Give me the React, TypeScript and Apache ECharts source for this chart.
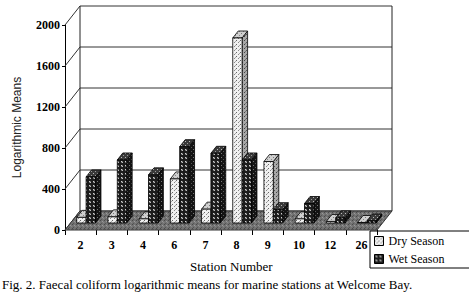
import React, { useEffect, useRef } from 'react';
import * as echarts from 'echarts';

const stations = ['2', '3', '4', '6', '7', '8', '9', '10', '12', '26'];
const drySeason = [55, 60, 40, 430, 135, 1805, 600, 40, 15, 5];
const wetSeason = [450, 615, 470, 745, 680, 615, 130, 190, 50, 20];
const yTicks = [0, 400, 800, 1200, 1600, 2000];
const seriesNames = ['Dry Season', 'Wet Season'];
const captionText = 'Fig. 2. Faecal coliform logarithmic means for marine stations at Welcome Bay.';
const xAxisTitle = 'Station Number';
const yAxisTitle = 'Logarithmic Means';

// depth of the 3D box (px)
const DX = 15;
const DY = -19;
// bar placement in depth
const FDX = 5.5;
const FDY = -7;
const BDX = 5.5;
const BDY = -7;

function makePattern(size: number, bg: string, dots: [number, number, string][]) {
  const c = document.createElement('canvas');
  c.width = size;
  c.height = size;
  const ctx = c.getContext('2d')!;
  ctx.fillStyle = bg;
  ctx.fillRect(0, 0, size, size);
  dots.forEach(([x, y, col]) => {
    ctx.fillStyle = col;
    ctx.fillRect(x, y, 1, 1);
  });
  return { image: c, repeat: 'repeat' } as any;
}

export default function App() {
  const ref = useRef<HTMLDivElement>(null);
  useEffect(() => {
    if (!ref.current) return;
    const chart = echarts.init(ref.current, undefined, { renderer: 'svg' });

    const dryFront = makePattern(4, '#f0f0f0', [[0, 0, '#666'], [2, 2, '#888'], [3, 1, '#aaa']]);
    const dryTop = makePattern(4, '#cfcfcf', [[1, 1, '#777'], [3, 3, '#888']]);
    const drySide = makePattern(4, '#a8a8a8', [[0, 0, '#444'], [2, 2, '#555'], [1, 3, '#777']]);
    const wetFront = makePattern(4, '#1c1c1c', [[1, 1, '#cfcfcf'], [2, 2, '#bdbdbd'], [1, 2, '#666'], [2, 1, '#666']]);
    const wetTop = makePattern(4, '#3a3a3a', [[1, 1, '#bbb'], [3, 3, '#999']]);
    const wetSide = makePattern(4, '#141414', [[1, 1, '#777'], [3, 3, '#555']]);
    const floorFill = makePattern(4, '#727272', [[0, 0, '#4a4a4a'], [2, 1, '#9a9a9a'], [1, 3, '#555'], [3, 2, '#8a8a8a']]);

    const faces = [
      { front: dryFront, top: dryTop, side: drySide },
      { front: wetFront, top: wetTop, side: wetSide },
    ];

    const barRender = (k: number) => (params: any, api: any) => {
      const idx = api.value(0);
      const v = api.value(1);
      const base = api.coord([idx, 0]);
      const top = api.coord([idx, v]);
      const band = api.size([1, 0])[0];
      const w = band * 0.3;
      const x0 = base[0] - w + k * w + FDX;
      const yt = top[1] + FDY;
      const yb = base[1] + FDY;
      const f = faces[k];
      const stroke = '#000';
      return {
        type: 'group',
        children: [
          {
            type: 'polygon',
            shape: { points: [[x0 + w, yt], [x0 + w + BDX, yt + BDY], [x0 + w + BDX, yb + BDY], [x0 + w, yb]] },
            style: { fill: f.side, stroke, lineWidth: 0.8 },
          },
          {
            type: 'polygon',
            shape: { points: [[x0, yt], [x0 + w, yt], [x0 + w + BDX, yt + BDY], [x0 + BDX, yt + BDY]] },
            style: { fill: f.top, stroke, lineWidth: 0.8 },
          },
          {
            type: 'rect',
            shape: { x: x0, y: yt, width: w, height: yb - yt },
            style: { fill: f.front, stroke, lineWidth: 0.8 },
          },
        ],
      };
    };

    const serifFont = 'Liberation Serif';

    chart.setOption({
      animation: false,
      backgroundColor: '#fff',
      title: [
        {
          text: captionText,
          left: 2,
          top: 278,
          padding: 0,
          textStyle: { fontFamily: serifFont, fontSize: 13, fontWeight: 'normal', color: '#000' },
        },
        {
          text: xAxisTitle,
          left: 190,
          top: 260,
          padding: 0,
          textStyle: { fontFamily: serifFont, fontSize: 13, fontWeight: 'normal', color: '#000' },
        },
      ],
      legend: {
        data: seriesNames,
        orient: 'vertical',
        left: 370,
        top: 231,
        icon: 'rect',
        itemWidth: 9,
        itemHeight: 9,
        itemGap: 6,
        padding: [4, 26, 3, 4],
        borderColor: '#000',
        borderWidth: 1,
        itemStyle: { borderColor: '#000', borderWidth: 1 },
        textStyle: { fontFamily: serifFont, fontSize: 12, color: '#000' },
      },
      grid: { left: 65, top: 25, right: 92, bottom: 68, containLabel: false },
      xAxis: {
        type: 'category',
        data: stations,
        boundaryGap: true,
        axisLine: { show: false },
        axisTick: { show: true, length: 5, lineStyle: { color: '#000' } },
        axisLabel: { margin: 9, fontFamily: serifFont, fontWeight: 'bold', fontSize: 12, color: '#000' },
        splitLine: { show: false },
      },
      yAxis: {
        type: 'value',
        min: 0,
        max: 2000,
        interval: 400,
        name: yAxisTitle,
        nameLocation: 'middle',
        nameGap: 42,
        nameTextStyle: { fontFamily: 'Liberation Sans', fontSize: 12, color: '#222' },
        axisLine: { show: true, lineStyle: { color: '#000', width: 1 } },
        axisTick: { show: true, length: 3, lineStyle: { color: '#000' } },
        axisLabel: {
          margin: 5,
          fontFamily: serifFont,
          fontWeight: 'bold',
          fontSize: 12,
          color: '#000',
          formatter: (v: number) => String(v),
        },
        splitLine: { show: false },
      },
      series: [
        {
          type: 'custom',
          name: 'grid',
          silent: true,
          z: 1,
          data: yTicks.map((v) => [0, v]),
          renderItem: (params: any, api: any) => {
            const cs = params.coordSys;
            const y = api.coord([0, api.value(1)])[1];
            const x0 = cs.x;
            const x1 = cs.x + cs.width;
            return {
              type: 'polyline',
              shape: { points: [[x0, y], [x0 + DX, y + DY], [x1 + DX, y + DY]] },
              style: { stroke: '#333', fill: null, lineWidth: 1 },
            };
          },
        },
        {
          type: 'custom',
          name: 'walls',
          silent: true,
          z: 1,
          data: [[0, 0]],
          renderItem: (params: any, api: any) => {
            const cs = params.coordSys;
            const yb = api.coord([0, api.value(1)])[1];
            const yTop = cs.y;
            const x0 = cs.x;
            const x1 = cs.x + cs.width;
            return {
              type: 'group',
              children: [
                {
                  type: 'line',
                  shape: { x1: x0 + DX, y1: yTop + DY, x2: x0 + DX, y2: yb + DY },
                  style: { stroke: '#222', lineWidth: 1 },
                },
                {
                  type: 'line',
                  shape: { x1: x1 + DX, y1: yTop + DY, x2: x1 + DX, y2: yb + DY },
                  style: { stroke: '#222', lineWidth: 1 },
                },
                {
                  type: 'polygon',
                  shape: { points: [[x0, yb], [x1, yb], [x1 + DX, yb + DY], [x0 + DX, yb + DY]] },
                  style: { fill: floorFill, stroke: '#333', lineWidth: 1 },
                },
              ],
            };
          },
        },
        {
          type: 'custom',
          name: seriesNames[0],
          z: 2,
          itemStyle: { color: dryFront, borderColor: '#000', borderWidth: 1 },
          data: drySeason.map((v, i) => [i, v]),
          encode: { x: 0, y: 1 },
          renderItem: barRender(0),
        },
        {
          type: 'custom',
          name: seriesNames[1],
          z: 3,
          itemStyle: { color: wetFront, borderColor: '#000', borderWidth: 1 },
          data: wetSeason.map((v, i) => [i, v]),
          encode: { x: 0, y: 1 },
          renderItem: barRender(1),
        },
      ],
    });
    return () => chart.dispose();
  }, []);

  return (
    <div
      ref={ref}
      style={{ position: 'fixed', left: 0, top: 0, width: 469, height: 298, background: '#fff' }}
    />
  );
}
